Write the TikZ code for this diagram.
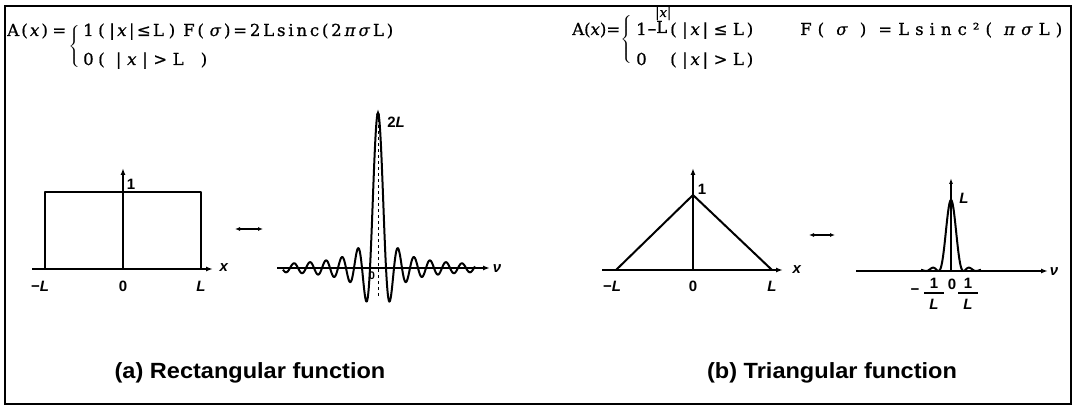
\documentclass[tikz,border=0pt]{standalone}
\usepackage{fontspec}
\usepackage{amsmath}
\usetikzlibrary{arrows.meta}
\newfontfamily\eqf[FakeBold=0.8]{DejaVu Serif}
\newfontfamily\capf[FakeStretch=1.07]{Liberation Sans}
\newfontfamily\lblf{Liberation Sans}
\newcommand{\hf}{\hfil}
\begin{document}
\begin{tikzpicture}[x=1pt,y=-1pt,
  eq/.style={font=\eqf\fontsize{16.5}{16.5}\selectfont, anchor=base west, inner sep=0pt},
  brc/.style={inner sep=0pt},
  lbl/.style={font=\lblf\bfseries\fontsize{15}{15}\selectfont, inner sep=0pt},
  captxt/.style={font=\capf\bfseries\fontsize{22}{22}\selectfont, inner sep=0pt, anchor=base},
  curve/.style={line width=2pt, line join=round},
  axis/.style={line width=1.6pt, -{Latex[length=7pt,width=5pt]}},
  dbl/.style={line width=1.6pt, {Latex[length=5pt,width=4pt]}-{Latex[length=5pt,width=4pt]}}]
\useasboundingbox (0,0) rectangle (1074,409);
\draw[line width=1.2pt] (5,6) rectangle (1071,404);

% ---------- left equations
\node[eq] (eA1) at (7,36) {\makebox[59pt][s]{A\hf(\hf\textit{x}\hf)\hf\hf=}};
\node[brc] (br1) at (75,47) {\scalebox{1.3}[1]{$\left\{\vrule height 19pt depth 19pt width 0pt\right.$}};
\node[eq] (l1a) at (83,36) {1};
\node[eq] (l1b) at (98,36) {\makebox[77pt][s]{(\hf\hf|\hf\textit{x}\hf|\hf≤\hf L\hf\hf)}};
\node[eq] (l1c) at (183,36) {\makebox[210pt][s]{F\hf(\hf\hf\textit{σ}\hf)\hf=\hf 2\hf L\hf s\hf i\hf n\hf c\hf(\hf 2\hf\textit{π}\hf\textit{σ}\hf L\hf)}};
\node[eq] (l2a) at (83,65) {0};
\node[eq] (l2b) at (98,65) {\makebox[109pt][s]{(\hf\hf|\hf\textit{x}\hf|\hf>\hf L\hf\hf\hf)}};

% ---------- right equations
\node[eq] (eA2) at (572,35) {\makebox[48pt][s]{A\hf(\hf\textit{x}\hf)\hf=}};
\node[brc] (br2) at (627,41) {\scalebox{1.3}[1]{$\left\{\vrule height 24pt depth 24pt width 0pt\right.$}};
\node[eq] (r1a) at (636,35) {1\hspace{0.5pt}\scalebox{0.7}[1]{−}};
\node[eq, font=\eqf\fontsize{13}{13}\selectfont] (r1n) at (655,17) {|\textit{x}|};
\node[eq] (r1d) at (656,33) {L};
\node[eq] (r1b) at (670,35) {\makebox[83pt][s]{(\hf\hf|\hf\textit{x}\hf|\hf\hf≤\hf\hf L\hf)}};
\node[eq] (r1c) at (800,35) {\makebox[262pt][s]{F\hf(\hf\hf\textit{σ}\hf\hf)\hf\hf=\hf L\hf s\hf i\hf n\hf c\hf ²\hf(\hf\hf\textit{π}\hf\textit{σ}\hf L\hf)}};
\node[eq] (r2a) at (636,65) {0};
\node[eq] (r2b) at (670,65) {\makebox[83pt][s]{(\hf\hf|\hf\textit{x}\hf|\hf\hf>\hf\hf L\hf)}};

% ---------- (a) rectangular function
\coordinate (ax0) at (32,269); \coordinate (ax1) at (213,269);
\coordinate (ay0) at (123,269); \coordinate (ay1) at (123,168);
\draw[axis] (ax0) -- (ax1);
\draw[axis] (ay0) -- (ay1);
\coordinate (rA) at (45,269); \coordinate (rB) at (45,192);
\coordinate (rC) at (201,192); \coordinate (rD) at (201,269);
\draw[curve] (rA) -- (rB) -- (rC) -- (rD);
\node[lbl] (a1) at (131,184) {1};
\node[lbl] (amL) at (40,286) {−\textit{L}};
\node[lbl] (a0) at (123,286) {0};
\node[lbl] (aL) at (201,286) {\textit{L}};
\node[lbl] (ax) at (224,268) {\textit{x}};

\coordinate (da0) at (235,229); \coordinate (da1) at (263,229);
\draw[dbl] (da0) -- (da1);

% sinc
\coordinate (sx0) at (277,268); \coordinate (sx1) at (490,268);
\draw[axis] (sx0) -- (sx1);
\draw[curve] plot[domain=-95:97, samples=400] ({378+\x},{268-155*sin(\x*22.5)/(pi*\x/8)});
\coordinate (sy0) at (378,296); \coordinate (sy1) at (378,120); \coordinate (sy2) at (378,109);
\draw[line width=1pt, dashed] (sy0) -- (sy1);
\draw[line width=1pt, -{Latex[length=6pt,width=4pt]}] (sy1) -- (sy2);
\node[lbl] (s2L) at (396,122) {2\textit{L}};
\node[lbl, font=\lblf\bfseries\fontsize{11}{11}\selectfont] (s0) at (372,276) {0};
\node[lbl] (snu) at (497,269) {\textit{ν}};

% ---------- (b) triangular function
\coordinate (tx0) at (602,270); \coordinate (tx1) at (783,270);
\coordinate (ty0) at (693,270); \coordinate (ty1) at (693,168);
\draw[axis] (tx0) -- (tx1);
\draw[axis] (ty0) -- (ty1);
\coordinate (tA) at (616,270); \coordinate (tB) at (693,195); \coordinate (tC) at (772,270);
\draw[curve] (tA) -- (tB) -- (tC);
\node[lbl] (t1) at (702,189) {1};
\node[lbl] (tmL) at (612,286) {−\textit{L}};
\node[lbl] (t0) at (693,286) {0};
\node[lbl] (tL) at (772,286) {\textit{L}};
\node[lbl] (tx) at (797,270) {\textit{x}};

\coordinate (db0) at (809,235); \coordinate (db1) at (835,235);
\draw[dbl] (db0) -- (db1);

% sinc^2
\coordinate (qx0) at (856,271); \coordinate (qx1) at (1048,271);
\coordinate (qy0) at (951,271); \coordinate (qy1) at (951,178);
\draw[axis] (qx0) -- (qx1);
\draw[line width=1.5pt, -{Latex[length=6pt,width=4pt]}] (qy0) -- (qy1);
\draw[curve] plot[domain=-30:30, samples=300] ({951+\x},{271-71*(sin(\x*14.4)/(pi*\x/12.5))^2});
\node[lbl] (qL) at (964,198) {\textit{L}};
\node[lbl] (qm) at (915,292) {−};
\node[lbl] (qn1) at (934,283) {1};
\node[lbl] (qd1) at (934,304) {\textit{L}};
\draw[line width=1.2pt] (924,293) -- (944,293);
\node[lbl] (q0) at (952,284) {0};
\node[lbl] (qn2) at (968,283) {1};
\node[lbl] (qd2) at (968,304) {\textit{L}};
\draw[line width=1.2pt] (958,293) -- (978,293);
\node[lbl] (qnu) at (1054,272) {\textit{ν}};

% ---------- captions
\node[captxt] (capa) at (250,378) {(a) Rectangular function};
\node[captxt] (capb) at (832,378) {(b) Triangular function};
\end{tikzpicture}
\end{document}
